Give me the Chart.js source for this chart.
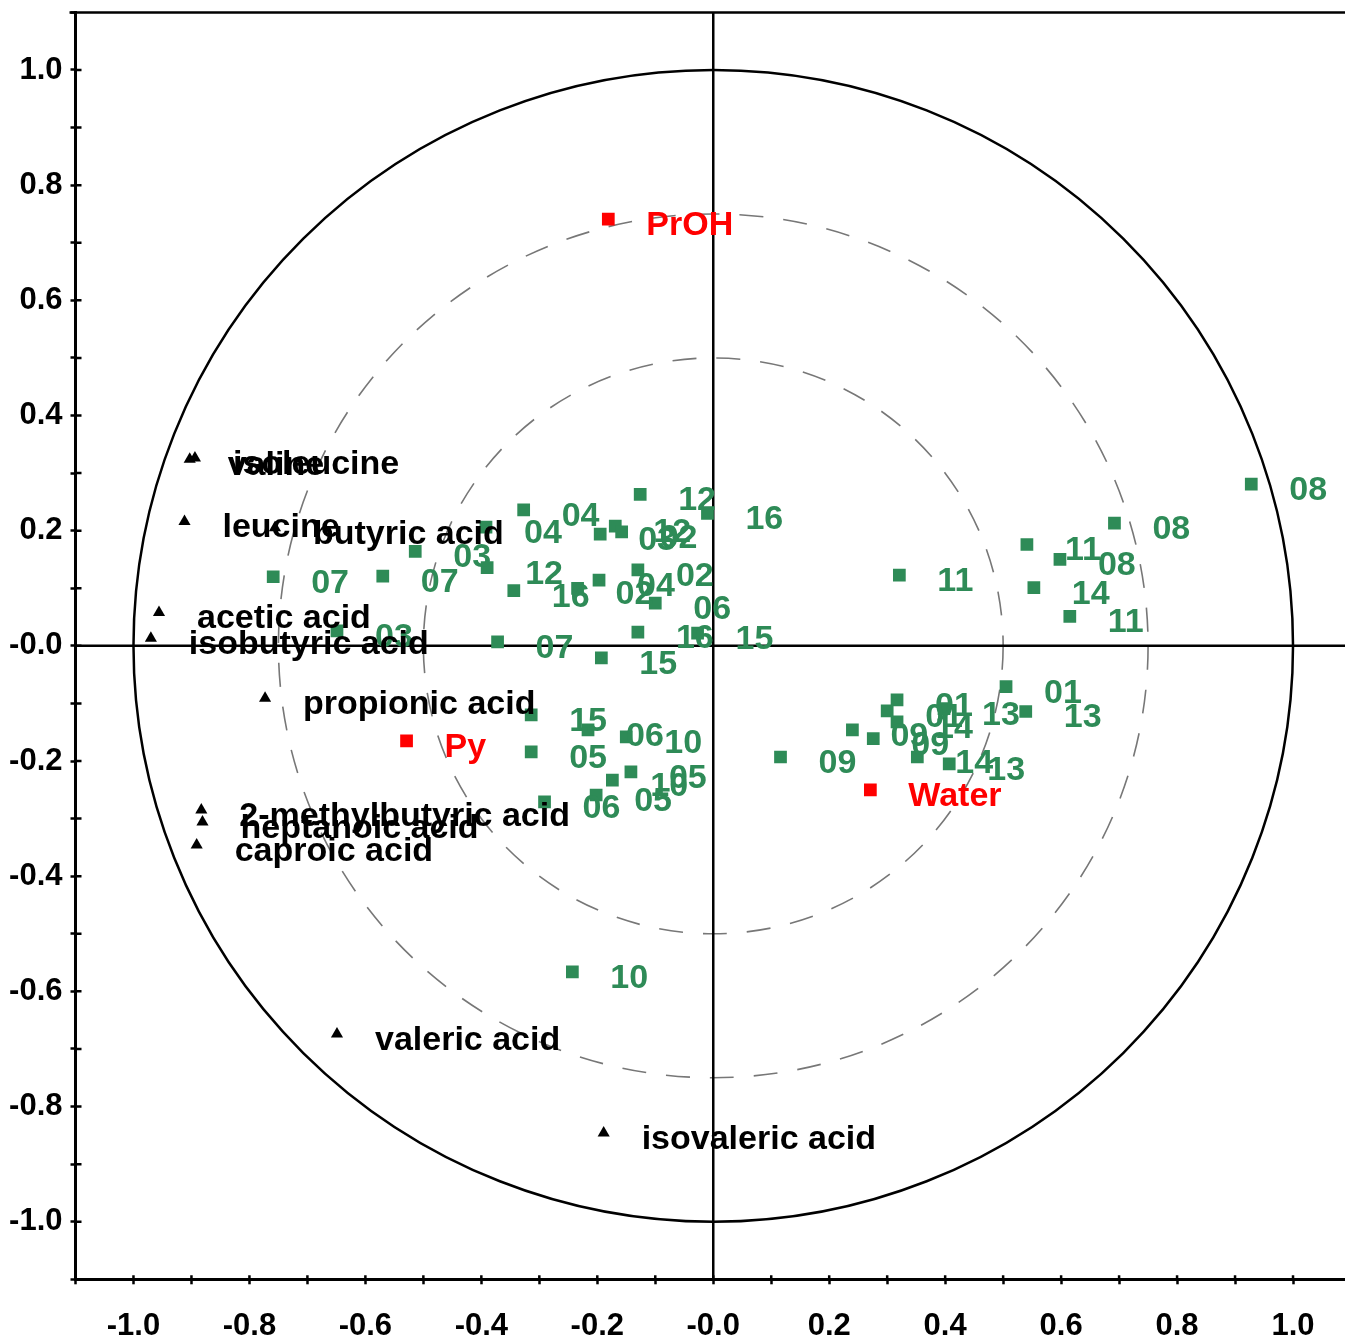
<!DOCTYPE html>
<html lang="en">
<head>
<meta charset="UTF-8">
<title>Correlation loadings</title>
<script src="https://cdn.jsdelivr.net/npm/chart.js"></script>
<style>
    html, body {
        margin: 0;
        padding: 0;
        background: #fff;
        overflow: hidden;
    }
    #wrap {
        width: 1360px;
        height: 1336px;
    }
</style>
</head>
<body>
<div id="wrap"><canvas id="loadings" width="1360" height="1336"></canvas></div>
<script>
    // samples (green squares)
    const sampleNames = ['08', '08', '11', '08', '11', '14', '11', '09', '09', '09', '01', '01', '14', '13', '14', '13', '01', '13',
        '12', '16', '04', '04', '03', '12', '02', '03', '07', '07', '12', '16', '02', '04', '02', '06', '16', '15', '03', '07', '15',
        '15', '06', '10', '05', '05', '10', '05', '06', '10'];
    const sampleX = [0.928, 0.692, 0.541, 0.598, 0.321, 0.553, 0.615, 0.116, 0.240, 0.276, 0.317, 0.300, 0.317, 0.398, 0.352, 0.407, 0.505, 0.539,
        -0.126, -0.010, -0.327, -0.392, -0.195, -0.169, -0.158, -0.514, -0.570, -0.759, -0.390, -0.344, -0.234, -0.197, -0.130, -0.100, -0.130, -0.027, -0.649, -0.372, -0.193,
        -0.314, -0.216, -0.150, -0.314, -0.142, -0.174, -0.202, -0.291, -0.243];
    const sampleY = [0.281, 0.213, 0.176, 0.150, 0.123, 0.101, 0.051, -0.193, -0.146, -0.161, -0.094, -0.113, -0.132, -0.109, -0.193, -0.205, -0.071, -0.114,
        0.263, 0.230, 0.236, 0.206, 0.194, 0.208, 0.198, 0.164, 0.121, 0.120, 0.136, 0.096, 0.100, 0.114, 0.132, 0.074, 0.024, 0.022, 0.026, 0.007, -0.021,
        -0.120, -0.146, -0.158, -0.184, -0.219, -0.233, -0.259, -0.271, -0.566];

    // response variables (black triangles)
    const varNames = ['valine', 'isoleucine', 'leucine', 'butyric acid', 'acetic acid', 'isobutyric acid', 'propionic acid',
        '2-methylbutyric acid', 'heptanoic acid', 'caproic acid', 'valeric acid', 'isovaleric acid'];
    const varX = [-0.903, -0.894, -0.912, -0.756, -0.956, -0.970, -0.773, -0.883, -0.881, -0.891, -0.649, -0.189];
    const varY = [0.324, 0.326, 0.216, 0.205, 0.058, 0.013, -0.091, -0.285, -0.306, -0.346, -0.674, -0.846];

    // design variables (red squares)
    const designNames = ['PrOH', 'Py', 'Water'];
    const designX = [-0.181, -0.529, 0.271];
    const designY = [0.741, -0.165, -0.250];

    const circleRadii = [1.0, 0.75, 0.5];
    const xTickLabels = ['-1.0', '-0.8', '-0.6', '-0.4', '-0.2', '-0.0', '0.2', '0.4', '0.6', '0.8', '1.0'];
    const yTickLabels = ['-1.0', '-0.8', '-0.6', '-0.4', '-0.2', '-0.0', '0.2', '0.4', '0.6', '0.8', '1.0'];

    const GREEN = '#2e8b57';
    const LABEL_FONT = 'bold 34px "Liberation Sans", Arial, sans-serif';

    function toPoints(xs, ys) {
        return xs.map((x, i) => ({x: x, y: ys[i]}));
    }

    // ticks every 0.1, labels every 0.2
    function buildTicks(scale) {
        const ticks = [];
        for (let i = -11; i <= 11; i++) ticks.push({value: i / 10});
        scale.ticks = ticks;
    }

    // no extra room for half labels at the ends
    function noEndPadding(scale) {
        scale.paddingTop = 0;
        scale.paddingBottom = 0;
        scale.paddingLeft = 0;
        scale.paddingRight = 0;
    }

    // circles and the two zero lines behind the points
    const backdrop = {
        id: 'backdrop',
        beforeDatasetsDraw(chart) {
            const {ctx, chartArea, scales} = chart;
            const xs = scales.x, ys = scales.y;
            const cx = xs.getPixelForValue(0), cy = ys.getPixelForValue(0);
            ctx.save();
            circleRadii.forEach((r, i) => {
                const rx = xs.getPixelForValue(r) - cx;
                const ry = cy - ys.getPixelForValue(r);
                ctx.beginPath();
                ctx.ellipse(cx, cy, rx, ry, 0, 0, Math.PI * 2);
                if (i === 0) {
                    ctx.setLineDash([]);
                    ctx.strokeStyle = '#000';
                    ctx.lineWidth = 2.5;
                } else {
                    ctx.setLineDash([24, 20]);
                    ctx.strokeStyle = '#777';
                    ctx.lineWidth = 1.6;
                }
                ctx.stroke();
            });
            ctx.setLineDash([]);
            ctx.strokeStyle = '#000';
            ctx.lineWidth = 2.5;
            ctx.beginPath();
            ctx.moveTo(cx, chartArea.top);
            ctx.lineTo(cx, chartArea.bottom);
            ctx.moveTo(chartArea.left, cy);
            ctx.lineTo(chartArea.right, cy);
            ctx.stroke();
            ctx.restore();
        }
    };

    // point names next to each marker
    const pointNames = {
        id: 'pointNames',
        afterDatasetsDraw(chart) {
            const ctx = chart.ctx;
            ctx.save();
            ctx.font = LABEL_FONT;
            ctx.textAlign = 'left';
            ctx.textBaseline = 'alphabetic';
            chart.data.datasets.forEach((ds, i) => {
                ctx.fillStyle = ds.textColor;
                chart.getDatasetMeta(i).data.forEach((pt, j) => {
                    ctx.fillText(ds.names[j], pt.x + 38, pt.y + 16);
                });
            });
            ctx.restore();
        }
    };

    // frame top line and the inner half of the tick marks
    const frame = {
        id: 'frame',
        afterDraw(chart) {
            const {ctx, chartArea, scales} = chart;
            ctx.save();
            ctx.strokeStyle = '#000';
            ctx.lineWidth = 2.5;
            ctx.beginPath();
            ctx.moveTo(chartArea.left - 6, chartArea.top);
            ctx.lineTo(chartArea.right, chartArea.top);
            scales.x.ticks.forEach(t => {
                const px = scales.x.getPixelForValue(t.value);
                ctx.moveTo(px, chartArea.bottom);
                ctx.lineTo(px, chartArea.bottom - 4);
            });
            scales.y.ticks.forEach(t => {
                const py = scales.y.getPixelForValue(t.value);
                ctx.moveTo(chartArea.left, py);
                ctx.lineTo(chartArea.left + 6, py);
            });
            ctx.stroke();
            ctx.restore();
        }
    };

    const axisCommon = {
        type: 'linear',
        min: -1.1,
        max: 1.1,
        afterBuildTicks: buildTicks,
        grid: {
            display: true,
            drawOnChartArea: false,
            drawTicks: true,
            tickLength: 5,
            tickWidth: 2.5,
            tickColor: '#000'
        },
        border: {display: true, color: '#000', width: 3}
    };

    new Chart(document.getElementById('loadings').getContext('2d'), {
        type: 'scatter',
        data: {
            datasets: [
                {
                    label: 'Samples',
                    data: toPoints(sampleX, sampleY),
                    names: sampleNames,
                    textColor: GREEN,
                    pointStyle: 'rect',
                    pointRadius: 9,
                    pointHoverRadius: 9,
                    borderWidth: 0,
                    backgroundColor: GREEN
                },
                {
                    label: 'Y variables',
                    data: toPoints(varX, varY),
                    names: varNames,
                    textColor: '#000',
                    pointStyle: 'triangle',
                    pointRadius: 7,
                    pointHoverRadius: 7,
                    borderWidth: 0,
                    backgroundColor: '#000'
                },
                {
                    label: 'X variables',
                    data: toPoints(designX, designY),
                    names: designNames,
                    textColor: '#ff0000',
                    pointStyle: 'rect',
                    pointRadius: 9,
                    pointHoverRadius: 9,
                    borderWidth: 0,
                    backgroundColor: '#ff0000'
                }
            ]
        },
        options: {
            responsive: false,
            animation: false,
            events: [],
            layout: {padding: {top: 12.4, right: 7.7, left: 0, bottom: 0}},
            plugins: {
                legend: {display: false},
                tooltip: {enabled: false}
            },
            scales: {
                x: Object.assign({}, axisCommon, {
                    position: 'bottom',
                    afterFit(scale) {
                        scale.height = 56.7;
                        noEndPadding(scale);
                    },
                    ticks: {
                        autoSkip: false,
                        maxRotation: 0,
                        padding: 24,
                        color: '#000',
                        font: {family: '"Liberation Sans", Arial, sans-serif', size: 31, weight: 'bold'},
                        callback: (v, i) => (i % 2 === 1 ? xTickLabels[(i - 1) / 2] : '')
                    }
                }),
                y: Object.assign({}, axisCommon, {
                    position: 'left',
                    afterFit(scale) {
                        scale.width = 75.5;
                        noEndPadding(scale);
                    },
                    ticks: {
                        autoSkip: false,
                        padding: 8,
                        color: '#000',
                        font: {family: '"Liberation Sans", Arial, sans-serif', size: 31, weight: 'bold'},
                        callback: (v, i) => (i % 2 === 1 ? yTickLabels[(i - 1) / 2] : '')
                    }
                })
            }
        },
        plugins: [backdrop, pointNames, frame]
    });
</script>
</body>
</html>
